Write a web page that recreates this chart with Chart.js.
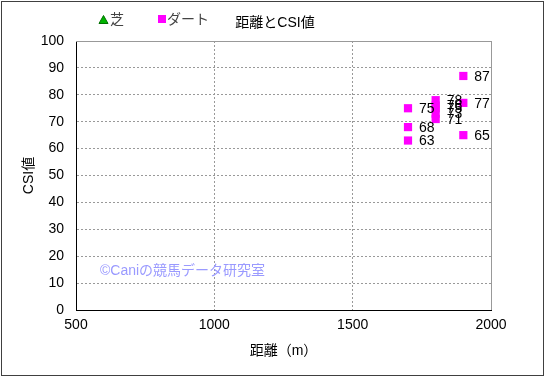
<!DOCTYPE html>
<html>
<head>
<meta charset="utf-8">
<script src="https://cdn.jsdelivr.net/npm/chart.js@4.4.0/dist/chart.umd.min.js"></script>
<style>
  body { margin: 0; background: #fff; }
  #wrap { width: 545px; height: 377px; }
</style>
</head>
<body>
<div id="wrap"><canvas id="myChart" width="545" height="377"></canvas></div>
<script>
const FONT = '"Liberation Sans", "Noto Sans CJK JP", sans-serif'

// data
const turfDistance = []
const turfCsi = []
const dirtDistance = [1700, 1700, 1700, 1800, 1800, 1800, 1800, 1800, 1900, 1900, 1900]
const dirtCsi = [75, 68, 63, 78, 76, 75, 73, 71, 87, 77, 65]
const xTicks = [500, 1000, 1500, 2000]
const yTicks = [0, 10, 20, 30, 40, 50, 60, 70, 80, 90, 100]

const toPoints = (xs, ys) => xs.map((x, i) => ({ x: x, y: ys[i] }))

const extras = {
    id: 'extras',
    beforeDraw(chart) {
        const ctx = chart.ctx
        ctx.save()
        ctx.fillStyle = '#fff'
        ctx.fillRect(0, 0, chart.width, chart.height)
        ctx.restore()
    },
    afterDatasetsDraw(chart) {
        const ctx = chart.ctx
        const a = chart.chartArea
        ctx.save()
        // frame top / right
        ctx.strokeStyle = '#999'
        ctx.lineWidth = 1
        ctx.beginPath()
        ctx.moveTo(a.left, a.top + 0.5)
        ctx.lineTo(a.right + 0.5, a.top + 0.5)
        ctx.lineTo(a.right + 0.5, a.bottom)
        ctx.stroke()

        // point labels
        const meta = chart.getDatasetMeta(1)
        ctx.fillStyle = '#000'
        ctx.font = '14px ' + FONT
        ctx.textBaseline = 'middle'
        ctx.textAlign = 'left'
        meta.data.forEach((pt, i) => {
            ctx.fillText(String(dirtCsi[i]), pt.x + 11, pt.y + 1)
        })

        // watermark
        ctx.fillStyle = '#9a9aff'
        ctx.font = '14px ' + FONT
        ctx.fillText('©Caniの競馬データ研究室', 100, 271)

        // title
        ctx.fillStyle = '#000'
        ctx.font = '14px ' + FONT
        ctx.textAlign = 'center'
        ctx.fillText('距離とCSI値', 275, 23)

        // legend
        ctx.textAlign = 'left'
        ctx.fillStyle = '#00b400'
        ctx.strokeStyle = '#007000'
        ctx.beginPath()
        ctx.moveTo(103.5, 15.5)
        ctx.lineTo(108, 23.5)
        ctx.lineTo(99, 23.5)
        ctx.closePath()
        ctx.fill()
        ctx.stroke()
        ctx.fillStyle = '#444'
        ctx.fillText(chart.data.datasets[0].label, 110, 20)
        ctx.fillStyle = '#ff00ff'
        ctx.fillRect(158, 15, 8, 8)
        ctx.fillStyle = '#444'
        ctx.fillText(chart.data.datasets[1].label, 167, 20)

        // outer border
        ctx.strokeStyle = '#404040'
        ctx.strokeRect(1.5, 1.5, chart.width - 3, chart.height - 3)
        ctx.restore()
    }
}

const ctx = document.getElementById('myChart').getContext('2d')

const config = {
    type: 'scatter',
    data: {
        datasets: [
            {
                label: '芝',
                data: toPoints(turfDistance, turfCsi),
                pointStyle: 'triangle',
                backgroundColor: '#00b400',
                borderColor: '#00b400',
                pointRadius: 5
            },
            {
                label: 'ダート',
                data: toPoints(dirtDistance, dirtCsi),
                pointStyle: 'rect',
                backgroundColor: '#ff00ff',
                borderColor: '#ff00ff',
                borderWidth: 0,
                pointRadius: 5.8
            }
        ]
    },
    options: {
        responsive: false,
        animation: false,
        events: [],
        layout: { padding: { left: 0, right: 54, top: 41, bottom: 0 } },
        plugins: {
            legend: { display: false },
            tooltip: { enabled: false }
        },
        scales: {
            x: {
                type: 'linear',
                min: 500,
                max: 2000,
                afterBuildTicks: (s) => { s.ticks = xTicks.map(v => ({ value: v })) },
                afterFit: (s) => { s.height = 67 },
                ticks: {
                    color: '#000',
                    font: { family: FONT, size: 14 },
                    padding: 7,
                    callback: (v) => String(v)
                },
                grid: { color: '#999', drawTicks: false },
                border: { color: '#000', width: 1, dash: [2, 2] },
                title: {
                    display: true,
                    text: '距離（m）',
                    color: '#000',
                    font: { family: FONT, size: 14 },
                    padding: { top: 0, bottom: 17 }
                }
            },
            y: {
                min: 0,
                max: 100,
                afterBuildTicks: (s) => { s.ticks = yTicks.map(v => ({ value: v })) },
                afterFit: (s) => { s.width = 76 },
                ticks: {
                    color: '#000',
                    font: { family: FONT, size: 14 },
                    padding: 12,
                    callback: (v) => String(v)
                },
                grid: { color: '#999', drawTicks: false },
                border: { color: '#000', width: 1, dash: [2, 2] },
                title: {
                    display: true,
                    text: 'CSI値',
                    color: '#000',
                    font: { family: FONT, size: 14 },
                    padding: { top: 21, bottom: 0 }
                }
            }
        }
    },
    plugins: [extras]
}

const myChart = new Chart(ctx, config)
</script>
</body>
</html>
